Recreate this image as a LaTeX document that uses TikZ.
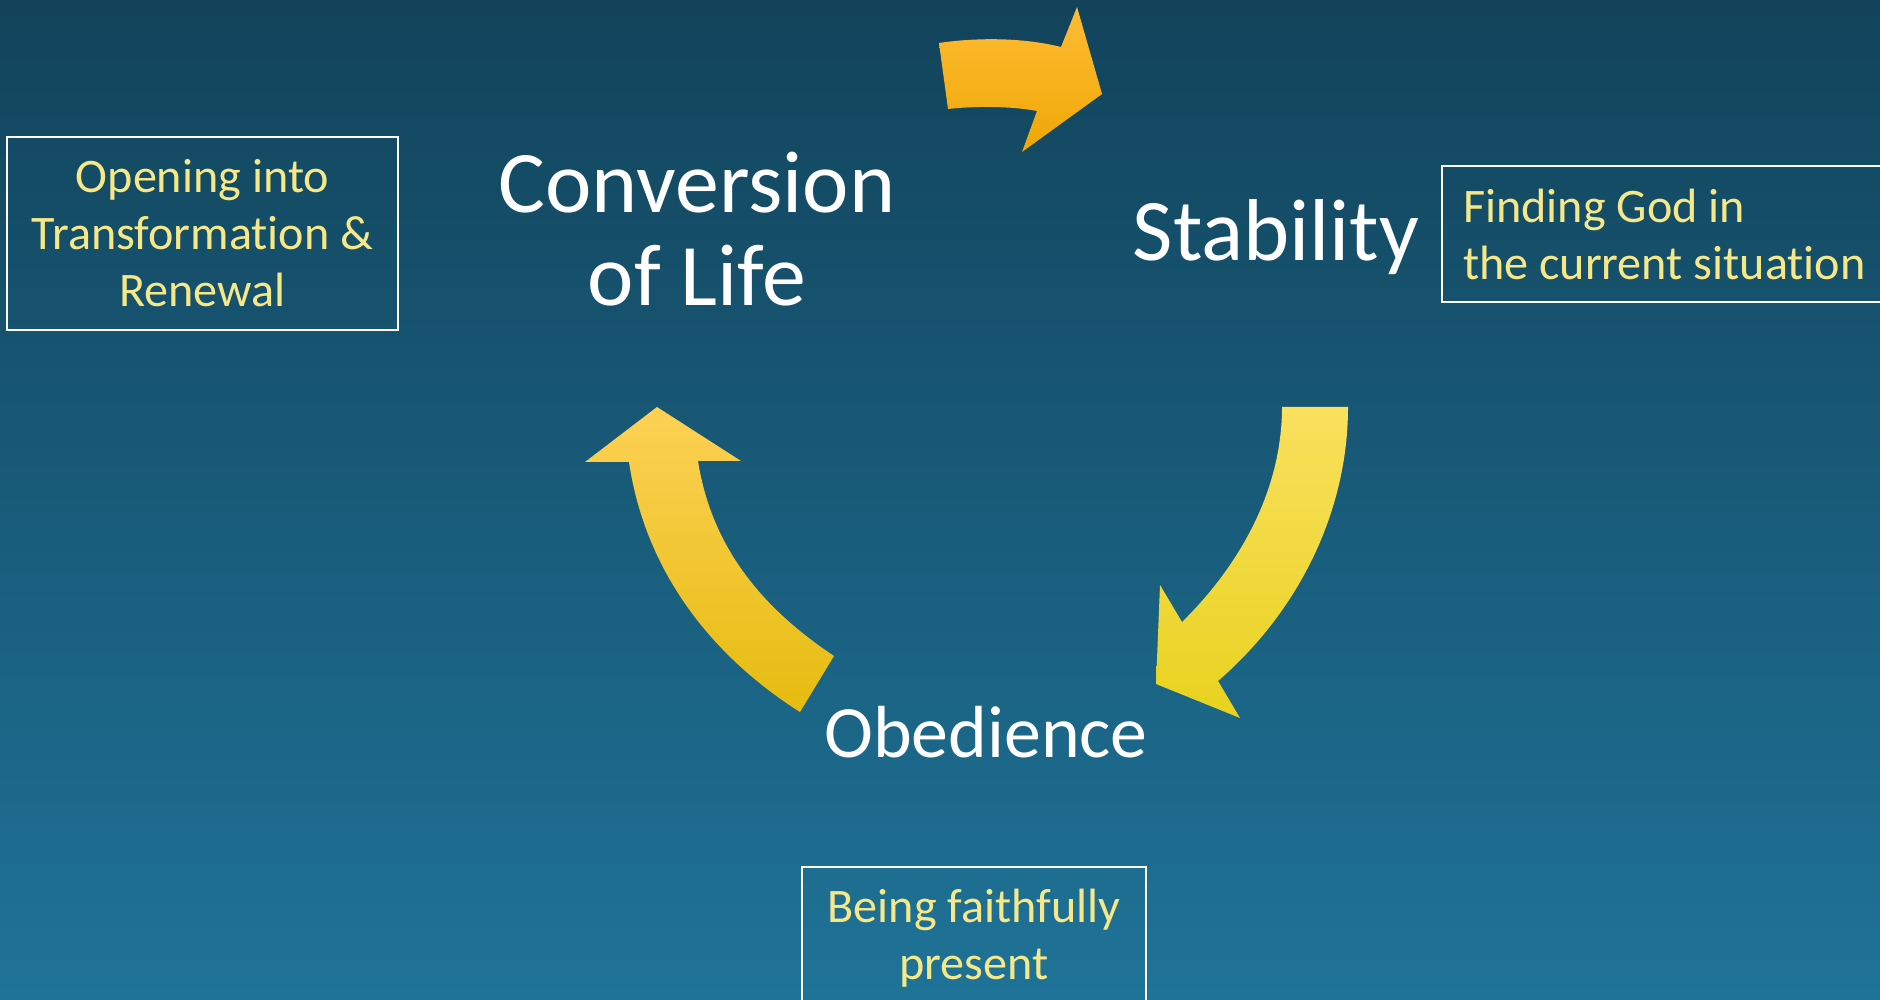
\documentclass[tikz,border=0pt]{standalone}
\usepackage{fontspec}
\setmainfont{Carlito}[Ligatures=NoCommon]
\usepackage{tikz}
\usetikzlibrary{positioning}
\definecolor{bgtop}{HTML}{12435B}
\definecolor{bgmid}{HTML}{165672}
\definecolor{bgbot}{HTML}{1F7398}
\definecolor{noteyellow}{HTML}{F7E887}
\tikzset{
    cyclelabel/.style={text=white, font=\fontsize{25}{26.5}\selectfont, align=center, inner sep=0pt}, % big white words
    notebox/.style={draw=white, line width=0.6pt, text=noteyellow,
        font=\fontsize{13.7}{16.2}\selectfont}, % framed yellow notes
    cyclearrow/.style={draw=none}, % filled curved arrows
}

\begin{document}
\begin{tikzpicture}
        \clip (0, 0) rectangle (18.8, 9.99);
        \shade[top color=bgtop, middle color=bgmid, bottom color=bgbot] (0, 0) rectangle (18.8, 9.99);
        % arrows of the cycle
        \begin{scope}
            \shade[cyclearrow, top color={rgb,255:red,255;green,188;blue,53}, bottom color={rgb,255:red,239;green,167;blue,5}]
                (9.39, 9.56) .. controls (9.80, 9.62) and (10.25, 9.61) .. (10.61, 9.52)
                -- (10.77, 9.92) -- (11.02, 9.05) -- (10.22, 8.47) -- (10.37, 8.88)
                .. controls (10.10, 8.93) and (9.75, 8.93) .. (9.48, 8.90) -- cycle;
            \shade[cyclearrow, top color={rgb,255:red,250;green,224;blue,94}, middle color={rgb,255:red,252;green,229;blue,48}, bottom color={rgb,255:red,232;green,210;blue,30}]
                (12.82, 5.92) -- (13.48, 5.92)
                .. controls (13.48, 4.89) and (13.00, 3.89) .. (12.18, 3.18)
                -- (12.40, 2.81) -- (11.56, 3.15) -- (11.60, 4.14) -- (11.82, 3.77)
                .. controls (12.40, 4.34) and (12.82, 5.09) .. (12.82, 5.92) -- cycle;
            \shade[cyclearrow, top color={rgb,255:red,253;green,209;blue,85}, middle color={rgb,255:red,252;green,207;blue,32}, bottom color={rgb,255:red,230;green,188;blue,16}]
                (6.57, 5.92) -- (7.41, 5.38) -- (6.98, 5.38)
                .. controls (7.12, 4.49) and (7.65, 3.89) .. (8.34, 3.43)
                -- (8.00, 2.87)
                .. controls (7.10, 3.44) and (6.45, 4.29) .. (6.29, 5.37)
                -- (5.85, 5.37) -- cycle;
        \end{scope}
        % words of the cycle
        \node[cyclelabel, anchor=base] (conversion) at (6.97, 6.93) {Conversion\\of Life};
        \node[cyclelabel, anchor=base] (stability) at (12.76, 7.38) {Stability};
        \node[cyclelabel, anchor=base, font=\fontsize{21}{22}\selectfont] (obedience) at (9.86, 2.41) {Obedience};
        % notes
        \node[notebox, align=center, minimum width=3.91cm, minimum height=1.93cm] (conversionnote) at (2.025, 7.655)
            {Opening into\\Transformation \&\\Renewal};
        \node[notebox, anchor=north west, align=flush left, text width=4.58cm, minimum height=1.36cm, inner xsep=0.21cm] (stabilitynote) at (14.41, 8.34)
            {Finding God in\\the current situation};
        \node[notebox, anchor=north, align=flush center, text width=3.24cm, inner xsep=0.1cm, inner ysep=0.22cm] (obediencenote) at (9.74, 1.33)
            {Being faithfully\\present};
    \end{tikzpicture}
\end{document}
